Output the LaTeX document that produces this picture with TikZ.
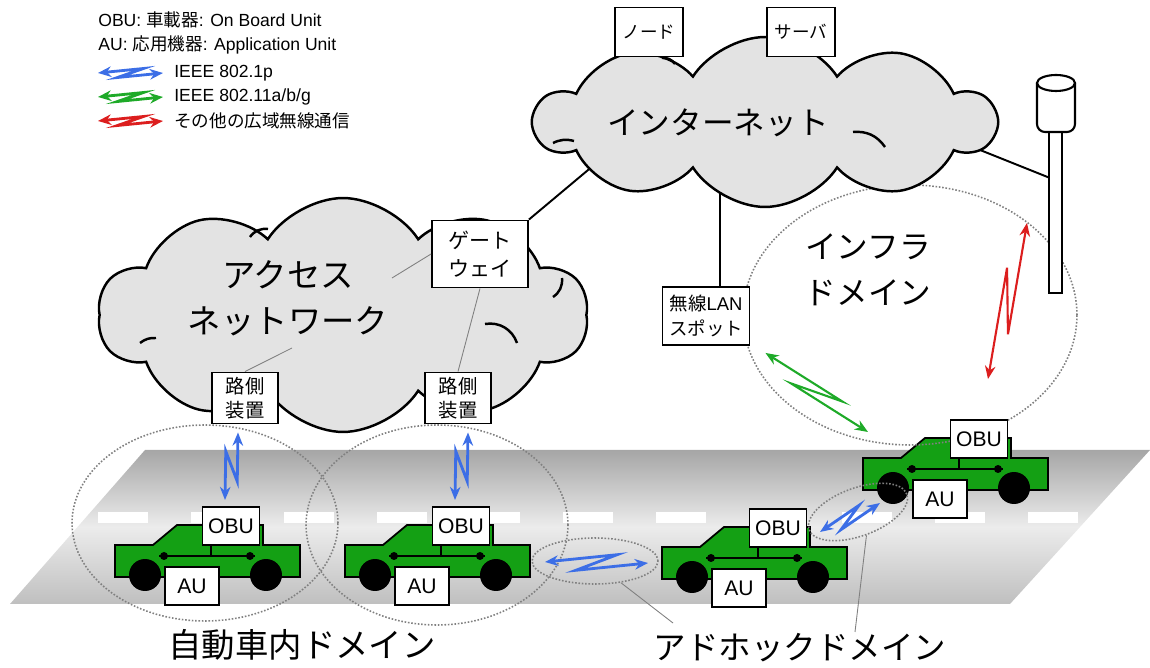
\documentclass[tikz,border=0pt]{standalone}
\usepackage{fontspec}
\setmainfont{Liberation Sans}
\newfontfamily\jp{Noto Sans CJK JP}
\usetikzlibrary{arrows.meta,calc,shapes.geometric,shapes.symbols}

\definecolor{lanblue}{RGB}{60,110,230}
\definecolor{wifigreen}{RGB}{30,170,40}
\definecolor{widered}{RGB}{220,30,30}
\definecolor{cargreen}{RGB}{20,160,20}

\pgfdeclarelayer{back}
\pgfsetlayers{back,main}

% double headed wireless arrow with a zig in the middle
\newcommand{\radiolink}[4][0.17cm]{%
  \draw[radio,#2] (#3) -- ($(#3)!0.7!(#4)!#1!90:(#4)$)
    -- ($(#3)!0.3!(#4)!#1!-90:(#4)$) -- (#4);}

\tikzset{
  pics/car/.style={code={
    \draw[carbody] (0,0) -- (38,0) -- (62,-20) -- (148,-20) -- (148,0)
      -- (185,0) -- (185,32) -- (0,32) -- cycle;
    \draw[line width=0.6pt] (44,11) -- (140,11) (96,0) -- (96,11);
    \fill (49,11) circle[radius=0.08cm] (135,11) circle[radius=0.08cm];
    \fill (30,30) circle[radius=0.32cm] (151,30) circle[radius=0.32cm];
  }}
}

\begin{document}
\begin{tikzpicture}[x=0.02cm, y=-0.02cm,
    box/.style={draw, line width=1.1pt, fill=white, inner sep=1pt, align=center},
    unitbox/.style={box, minimum width=1.14cm, minimum height=0.76cm,
      font=\fontsize{12}{14}\selectfont},
    rsubox/.style={box, minimum width=1.32cm, minimum height=1.02cm,
      font=\jp\fontsize{11}{14}\selectfont},
    zone/.style={ellipse, draw=gray, densely dotted, line width=0.9pt, inner sep=0pt},
    radio/.style={<->, >={Stealth[length=7.5pt,width=6pt]}, line width=1.2pt},
    net/.style={cloud, cloud puffs=10, cloud puff arc=115, draw, line width=1.4pt,
      fill=gray!22},
    crease/.style={line width=1.4pt},
    wire/.style={line width=1.1pt},
    leader/.style={gray, line width=0.5pt},
    carbody/.style={draw, line width=1pt, fill=cargreen},
    bigtext/.style={font=\jp\fontsize{19}{26}\selectfont, align=center},
    legend/.style={anchor=west, inner sep=0pt, font=\fontsize{10}{12}\selectfont}]

  \useasboundingbox (0,0) rectangle (1150,668);

  % road
  \shade[top color=gray!70, bottom color=gray!50, middle color=gray!15]
    (145,450) -- (1150,450) -- (1010,604) -- (10,604) -- cycle;
  \draw[white, line width=0.22cm, dash pattern=on 1cm off 0.86cm] (98,518) -- (1085,518);

  % cars
  \pic at (115,545) {car};
  \pic at (345,545) {car};
  \pic at (662,547) {car};
  \pic at (863,458) {car};

  % domains
  \node[zone, minimum width=5.32cm, minimum height=3.92cm] (incar1) at (205,523) {};
  \node[zone, minimum width=5.24cm, minimum height=4cm]    (incar2) at (437,525) {};
  \node[zone, minimum width=2.52cm, minimum height=0.92cm] (adhocA) at (595,561) {};
  \node[zone, minimum width=2.08cm, minimum height=0.96cm, rotate=20] (adhocB) at (858,512) {};
  \node[zone, minimum width=6.68cm, minimum height=5.2cm]  (infra)  at (910,315) {};

  % networks
  \node[net, aspect=2.1, minimum width=9.8cm, minimum height=4.68cm] (access) at (343,315) {};
  \node[net, aspect=2.7, minimum width=9.2cm, minimum height=3.4cm]  (inet)   at (765,122) {};

  % creases inside the clouds
  \draw[crease] (250,237) to[bend left=30] (268,229);
  \draw[crease] (140,343) to[bend left=20] (156,338);
  \draw[crease] (553,297) to[bend right=30] (562,278);
  \draw[crease] (485,324) to[bend left=40] (517,343);
  \draw[crease] (553,143) to[bend left=20] (574,141);
  \draw[crease] (662,58) to[bend left=30] (675,64);
  \draw[crease] (853,132) to[bend left=30] (885,147);

  \node[bigtext] (acctxt)  at (288,298) {アクセス\\ネットワーク};
  \node[bigtext, font=\jp\fontsize{18}{26}\selectfont] (inettxt) at (718,123) {インターネット};
  \node[bigtext, font=\jp\fontsize{18}{26}\selectfont] (infratxt) at (868,270) {インフラ\\ドメイン};

  \node[box, minimum width=1.36cm, minimum height=0.98cm, font=\jp\fontsize{10}{12}\selectfont]
    (node) at (649,32) {ノード};
  \node[box, minimum width=1.36cm, minimum height=0.98cm, font=\jp\fontsize{10}{12}\selectfont]
    (server) at (801,32) {サーバ};
  \node[box, minimum width=1.92cm, minimum height=1.34cm, font=\jp\fontsize{12}{16}\selectfont]
    (gw) at (480,254) {ゲート\\ウェイ};
  \node[box, minimum width=1.74cm, minimum height=1.16cm, font=\fontsize{10.5}{14}\selectfont]
    (wlan) at (706,316) {{\jp 無線}LAN\\{\jp スポット}};
  \node[rsubox] (rsu1) at (245,398) {路側\\装置};
  \node[rsubox] (rsu2) at (458,398) {路側\\装置};

  % leaders inside the access network
  \coordinate (accA) at (292,348);
  \coordinate (accB) at (392,278);
  \draw[leader] (accA) -- (rsu1.north);
  \draw[leader] (accB) -- (gw.west);
  \draw[leader] (gw.south) -- (rsu2.north);

  % antenna pole
  \draw[line width=1.2pt, fill=white] (1049,128) rectangle (1062,293);
  \draw[line width=1.2pt, fill=white, rounded corners=0.16cm]
    (1037,83) -- (1037,132) -- (1075,132) -- (1075,83);
  \draw[line width=1.2pt, fill=white] (1056,83) ellipse [x radius=0.38cm, y radius=0.16cm];
  \coordinate (pole) at (1055,293);
  \coordinate (polejoin) at (1050,178);

  % wired links, behind the clouds
  \coordinate (gwlink) at (600,160);
  \coordinate (inetlan) at (720,170);
  \coordinate (inetpole) at (940,134);
  \begin{pgfonlayer}{back}
    \draw[wire] (gw.north east) -- (gwlink);
    \draw[wire] (inetlan) -- (inetlan |- wlan.north);
    \draw[wire] (inetpole) -- (polejoin);
  \end{pgfonlayer}

  % on board and application units
  \node[unitbox] (obu1) at (231,526) {OBU};
  \node[unitbox, minimum width=1.08cm] (au1) at (192,586) {AU};
  \node[unitbox] (obu2) at (461,526) {OBU};
  \node[unitbox, minimum width=1.08cm] (au2) at (422,586) {AU};
  \node[unitbox] (obu3) at (778,528) {OBU};
  \node[unitbox, minimum width=1.08cm] (au3) at (739,588) {AU};
  \node[unitbox] (obu4) at (979,439) {OBU};
  \node[unitbox, minimum width=1.08cm] (au4) at (940,499) {AU};

  % wireless links
  \coordinate (r1a) at ([shift={(-6,-6)}]obu1.north);
  \coordinate (r1b) at ([shift={(-7,8)}]rsu1.south);
  \coordinate (r2a) at ([shift={(-6,-6)}]obu2.north);
  \coordinate (r2b) at ([shift={(10,8)}]rsu2.south);
  \coordinate (v2va) at ([shift={(-50,1)}]adhocA.center);
  \coordinate (v2vb) at ([shift={(53,2)}]adhocA.center);
  \coordinate (v2vc) at ([shift={(-38,20)}]adhocB.center);
  \coordinate (v2vd) at ([shift={(22,-9)}]adhocB.center);
  \coordinate (wifia) at ([shift={(15,7)}]wlan.south east);
  \coordinate (wifib) at ([shift={(-111,-7)}]obu4.center);
  \coordinate (widea) at ([shift={(9,-40)}]obu4.north);
  \coordinate (wideb) at ([shift={(-28,-70)}]pole);
  \radiolink[0.17cm]{lanblue, line width=1.6pt}{r1a}{r1b}
  \radiolink[0.17cm]{lanblue, line width=1.6pt}{r2a}{r2b}
  \radiolink[0.16cm]{lanblue, line width=1.6pt}{v2va}{v2vb}
  \radiolink[0.14cm]{lanblue, line width=1.6pt}{v2vc}{v2vd}
  \radiolink{wifigreen}{wifia}{wifib}
  \radiolink{widered}{widea}{wideb}

  % domain labels
  \node[bigtext] (incarlbl) at (302,645) {自動車内ドメイン};
  \node[bigtext, font=\jp\fontsize{18.5}{26}\selectfont] (adhoclbl) at (800,648) {アドホックドメイン};
  \coordinate (adhocTipA) at (673,623);
  \coordinate (adhocTipB) at (855,632);
  \draw[leader] (adhocA.-40) -- (adhocTipA);
  \draw[leader] (adhocTipB) -- (adhocB.south);

  % legend
  \node[legend] (obuleg) at (98,20) {OBU: {\jp 車載器}: On Board Unit};
  \node[legend] (auleg)  at (98,45) {AU: {\jp 応用機器}: Application Unit};
  \node[legend] (lanleg)  at (174,73)  {IEEE 802.1p};
  \node[legend] (wifileg) at (174,97)  {IEEE 802.11a/b/g};
  \node[legend, font=\jp\fontsize{10}{12}\selectfont] (wideleg) at (174,121) {その他の広域無線通信};
  \coordinate (k1a) at (98,73);  \coordinate (k1b) at (163,73);
  \coordinate (k2a) at (98,97);  \coordinate (k2b) at (163,97);
  \coordinate (k3a) at (98,121); \coordinate (k3b) at (163,121);
  \radiolink[0.09cm]{lanblue, line width=1.6pt}{k1a}{k1b}
  \radiolink[0.09cm]{wifigreen, line width=1.6pt}{k2a}{k2b}
  \radiolink[0.09cm]{widered, line width=1.6pt}{k3a}{k3b}

\end{tikzpicture}
\end{document}
